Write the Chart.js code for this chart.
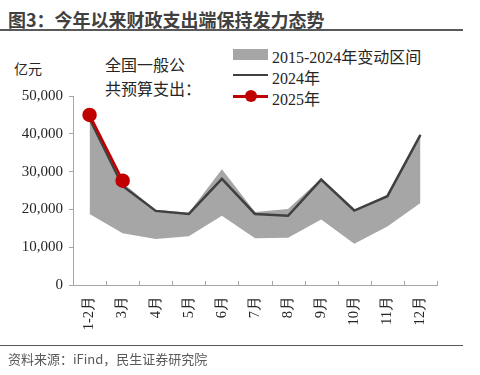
<!DOCTYPE html>
<html>
<head>
<meta charset="utf-8">
<script src="https://cdn.jsdelivr.net/npm/chart.js@4.4.1/dist/chart.umd.min.js"></script>
<style>
  body { margin: 0; background: #fff; }
  #wrap { position: relative; width: 480px; height: 375px; overflow: hidden; }
  #chartBox { position: absolute; left: 0; top: 0; width: 480px; height: 375px; }
  .t { position: absolute; white-space: nowrap; }
  .serif { font-family: "Liberation Serif", "Noto Sans CJK SC", serif; color: #262626; }
  .cjk { font-family: "Noto Sans CJK SC", sans-serif; color: #262626; }
</style>
</head>
<body>
<div id="wrap">
  <div class="t" style="left:8px;top:6px;font:bold 18px 'Noto Sans CJK SC';color:#404040;">图3：今年以来财政支出端保持发力态势</div>
  <div style="position:absolute;left:0;top:29px;width:463px;height:2px;background:#595959;"></div>

  <div class="t cjk" style="left:14px;top:58px;font-size:14px;">亿元</div>
  <div class="t cjk" style="left:105px;top:52px;font-size:16px;line-height:24px;">全国一般公<br>共预算支出：</div>

  <div style="position:absolute;left:233px;top:49px;width:35px;height:11px;background:#a6a6a6;"></div>
  <div class="t serif" id="lg0" style="left:272px;top:44px;font-size:16px;"></div>
  <div style="position:absolute;left:233px;top:74px;width:35px;height:2px;background:#404040;"></div>
  <div class="t serif" id="lg1" style="left:272px;top:65px;font-size:16px;"></div>
  <div style="position:absolute;left:233px;top:95px;width:35px;height:3px;background:#c00000;"></div>
  <div style="position:absolute;left:245px;top:90px;width:12px;height:12px;border-radius:6px;background:#c00000;"></div>
  <div class="t serif" id="lg2" style="left:272px;top:86px;font-size:16px;"></div>

  <div id="chartBox"><canvas id="chartFiscal"></canvas></div>

  <div style="position:absolute;left:0;top:345px;width:463px;height:1px;background:#595959;"></div>
  <div class="t" style="left:8px;top:349px;font:13px 'Noto Sans CJK SC';color:#595959;">资料来源：iFind，民生证券研究院</div>
</div>
<script>
  var months = ['1-2月', '3月', '4月', '5月', '6月', '7月', '8月', '9月', '10月', '11月', '12月'];
  var bandLow = [18800, 13700, 12200, 12900, 18300, 12400, 12500, 17300, 10900, 15500, 21700];
  var bandHigh = [45000, 27000, 19900, 19100, 30600, 19300, 20100, 28200, 19800, 23600, 39800];
  var y2024 = [44000, 26200, 19600, 18800, 28100, 18800, 18300, 27900, 19700, 23500, 39700];
  var y2025 = [45000, 27600];
  var yTicks = [0, 10000, 20000, 30000, 40000, 50000];

  var seriesNames = ['2015-2024年变动区间', '2024年', '2025年'];
  document.getElementById('lg0').textContent = seriesNames[0];
  document.getElementById('lg1').textContent = seriesNames[1];
  document.getElementById('lg2').textContent = seriesNames[2];

  // x tick marks point up into the plot, between categories
  var innerTicks = {
    id: 'innerTicks',
    afterDraw: function (chart) {
      var xs = chart.scales.x;
      var ctx = chart.ctx;
      var bottom = chart.chartArea.bottom;
      ctx.save();
      ctx.strokeStyle = '#a6a6a6';
      ctx.lineWidth = 1;
      for (var i = 0; i <= months.length; i++) {
        var x = Math.round(xs.getPixelForValue(i - 0.5)) + 0.5;
        ctx.beginPath();
        ctx.moveTo(x, bottom);
        ctx.lineTo(x, bottom - 4);
        ctx.stroke();
      }
      ctx.restore();
    }
  };

  var serif = 'Liberation Serif';

  new Chart(document.getElementById('chartFiscal'), {
    type: 'line',
    data: {
      labels: months,
      datasets: [
        {
          label: 'low',
          data: bandLow,
          borderWidth: 0,
          pointRadius: 0,
          fill: false,
          order: 3
        },
        {
          label: seriesNames[0],
          data: bandHigh,
          borderWidth: 0,
          pointRadius: 0,
          backgroundColor: '#a6a6a6',
          fill: '-1',
          order: 2
        },
        {
          label: seriesNames[1],
          data: y2024,
          borderColor: '#404040',
          borderWidth: 2.5,
          pointRadius: 0,
          fill: false,
          order: 1
        },
        {
          label: seriesNames[2],
          data: y2025,
          borderColor: '#c00000',
          backgroundColor: '#c00000',
          borderWidth: 2.5,
          pointRadius: 6,
          fill: false,
          order: 0
        }
      ]
    },
    options: {
      responsive: true,
      maintainAspectRatio: false,
      animation: false,
      layout: { padding: { left: 0, right: 43, top: 96, bottom: 0 } },
      scales: {
        x: {
          offset: true,
          grid: { drawOnChartArea: false, drawTicks: false },
          border: { color: '#a6a6a6', width: 1 },
          ticks: {
            minRotation: 90,
            maxRotation: 90,
            padding: 11,
            color: '#262626',
            font: { family: serif, size: 14.5 }
          },
          afterFit: function (scale) { scale.height = 90; }
        },
        y: {
          min: 0,
          max: 50000,
          afterBuildTicks: function (scale) {
            scale.ticks = yTicks.map(function (v) { return { value: v }; });
          },
          grid: { drawOnChartArea: false, drawTicks: true, tickLength: 4, color: '#a6a6a6' },
          border: { color: '#a6a6a6', width: 1 },
          ticks: {
            padding: 6,
            color: '#262626',
            font: { family: serif, size: 15 },
            callback: function (v) { return v.toLocaleString('en-US'); }
          },
          afterFit: function (scale) { scale.width = 73; }
        }
      },
      plugins: {
        legend: { display: false },
        tooltip: { enabled: false }
      }
    },
    plugins: [innerTicks]
  });
</script>
</body>
</html>
